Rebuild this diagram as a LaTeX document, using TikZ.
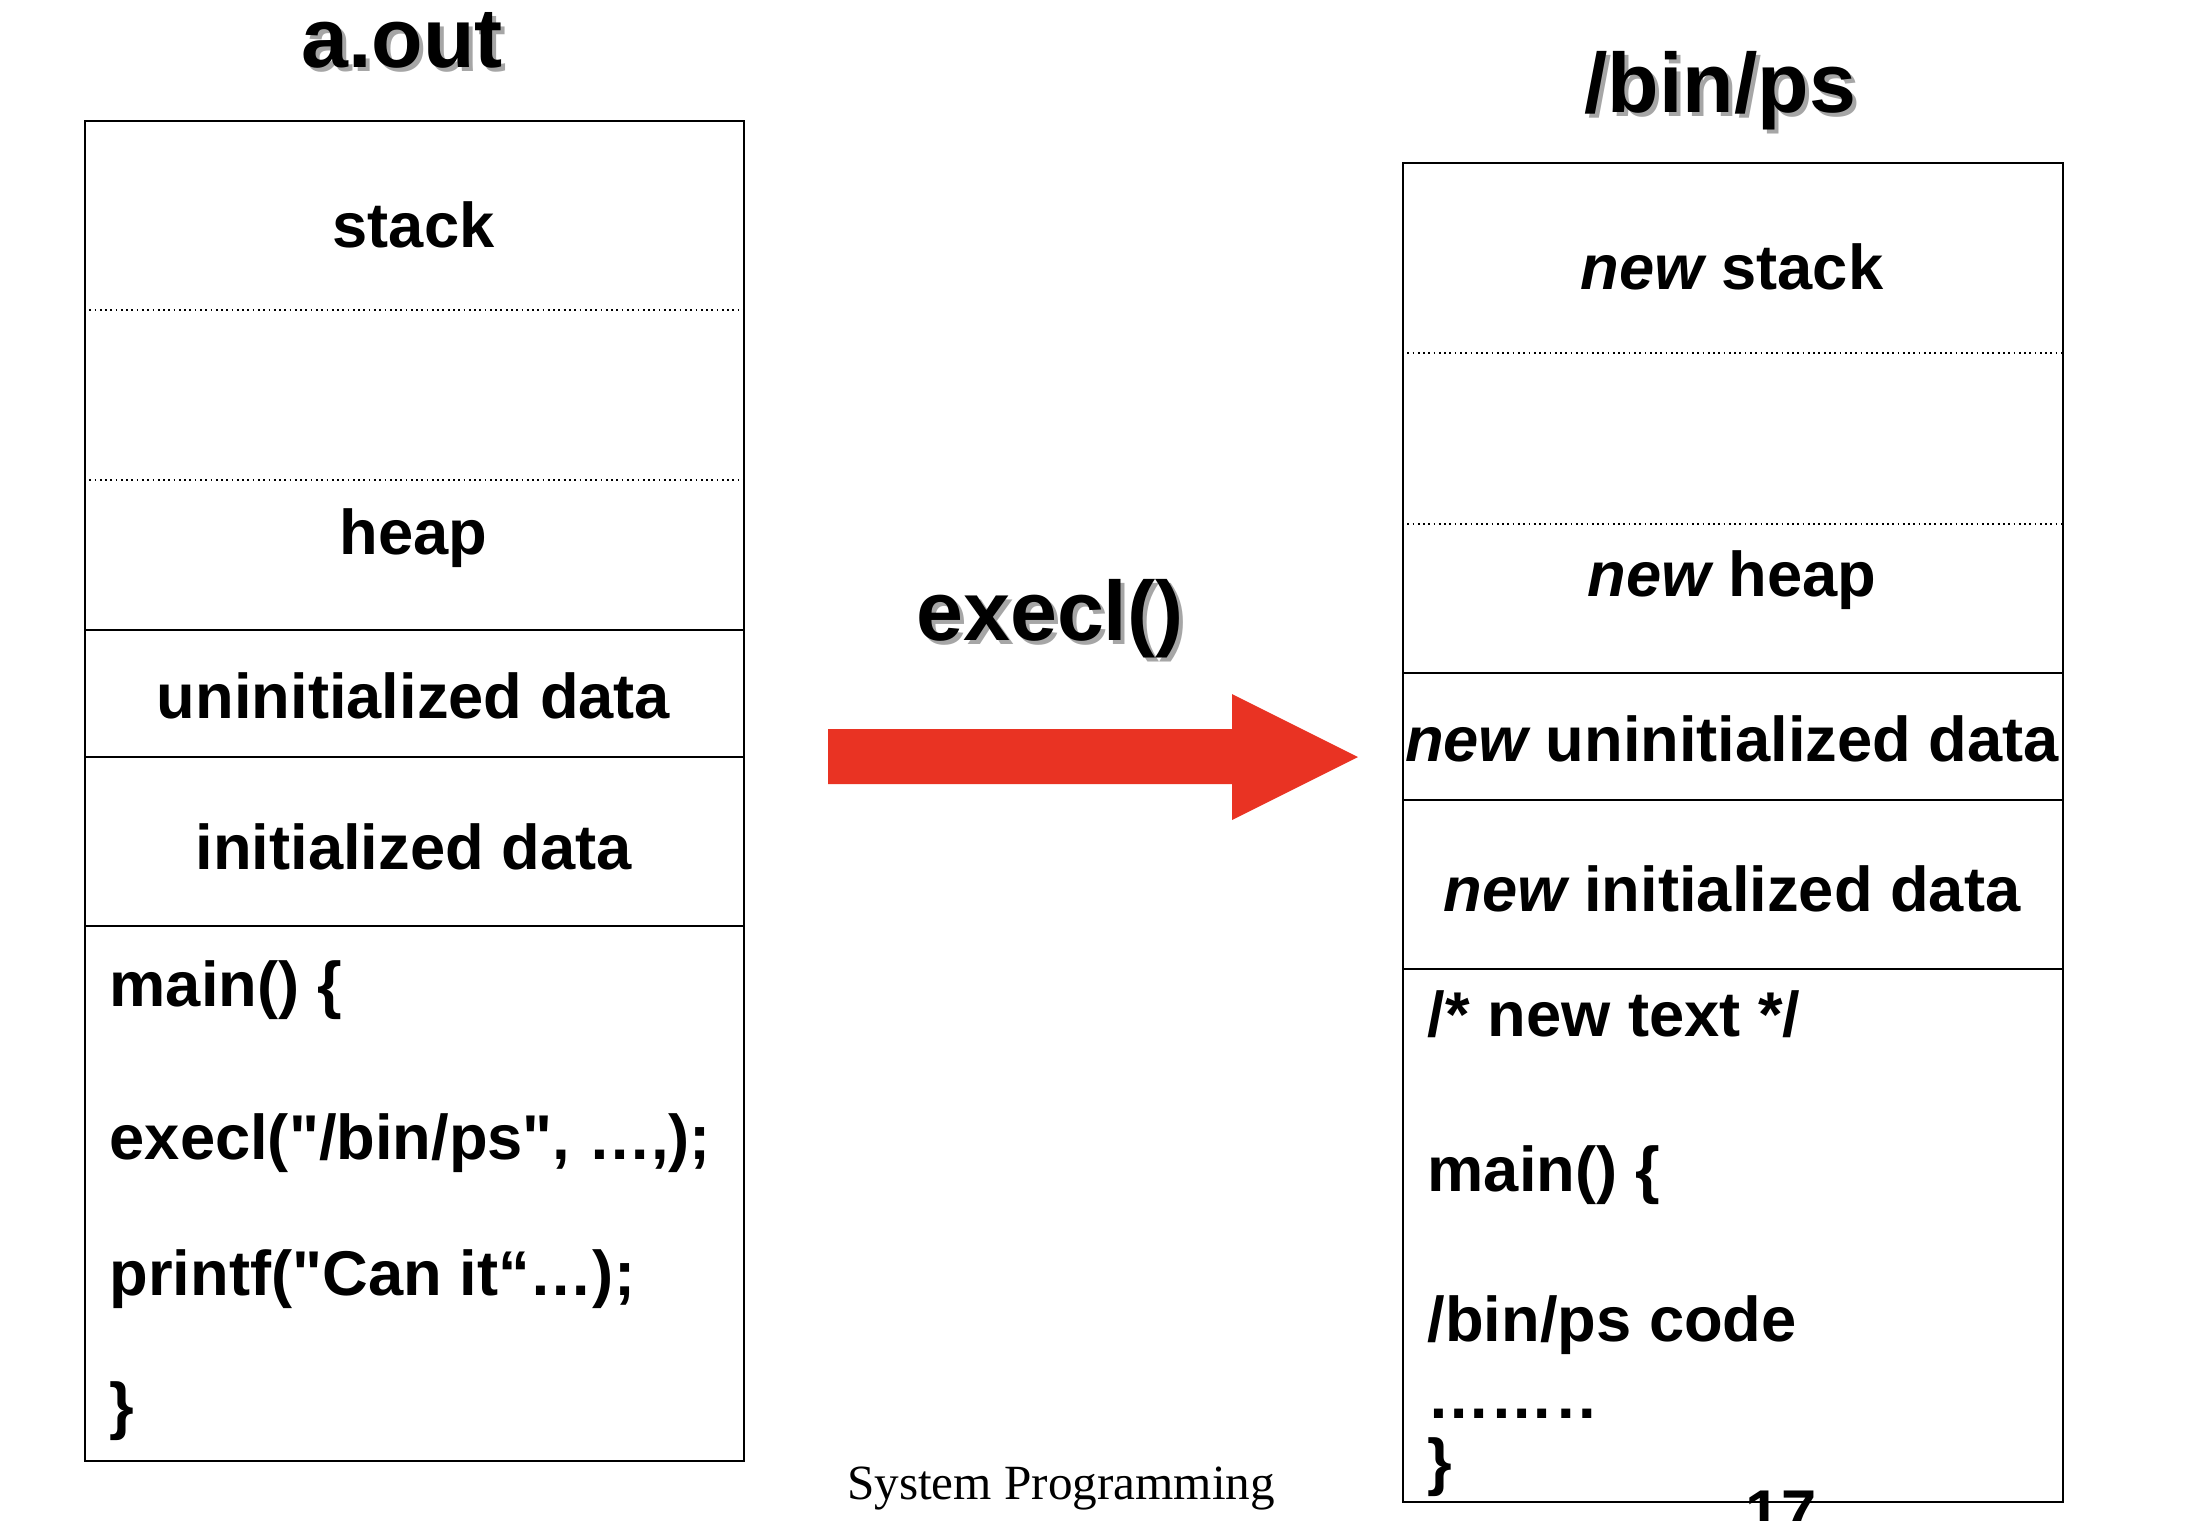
\documentclass[tikz,border=0pt]{standalone}
\usepackage{fontspec}
\setmainfont{Liberation Sans}
\newfontfamily\slidefont{Liberation Serif}
\usetikzlibrary{positioning}

\definecolor{execred}{RGB}{233,51,35}

\begin{document}
\begin{tikzpicture}[x=1cm, y=-1cm,
  segtext/.style={anchor=base, inner sep=0pt, font=\fontsize{18}{20}\selectfont\bfseries},
  codeline/.style={segtext, anchor=base west},
  bigtitle/.style={anchor=base, inner sep=0pt, font=\fontsize{24}{28}\selectfont\bfseries},
  titleshadow/.style={bigtitle, text=black!35},
  memframe/.style={draw, line width=0.7pt, inner sep=0pt, anchor=north west},
  solidsep/.style={line width=0.7pt},
  dotsep/.style={line width=0.5pt, densely dotted}]
  \useasboundingbox (0,0) rectangle (21.90,15.20);

  % titles, with their grey shadow
  \node[titleshadow] (aoutsh) at (4.06,0.71) {a.out};
  \node[bigtitle] (aout) at (4.02,0.67) {a.out};
  \node[titleshadow] (binpssh) at (17.24,1.16) {/bin/ps};
  \node[bigtitle] (binps) at (17.20,1.12) {/bin/ps};
  \node[titleshadow] (execsh) at (10.54,6.44) {execl()};
  \node[bigtitle] (exec) at (10.50,6.40) {execl()};

  % old process image
  \node[memframe, minimum width=6.59cm, minimum height=13.40cm] (oldmem) at (0.84,1.20) {};
  \foreach \yy/\ls in {3.10/dotsep, 4.80/dotsep, 6.30/solidsep, 7.57/solidsep, 9.26/solidsep}
    \draw[\ls] (0.84,\yy) -- (7.43,\yy);
  \node[segtext] (oldstack) at (4.135,2.47) {stack};
  \node[segtext] (oldheap) at (4.135,5.54) {heap};
  \node[segtext] (oldbss) at (4.135,7.18) {uninitialized data};
  \node[segtext] (olddata) at (4.135,8.69) {initialized data};
  \node[codeline] (oldmain) at (1.09,10.06) {main() \{};
  \node[codeline] (oldcall) at (1.09,11.59) {execl(\textquotedbl/bin/ps\textquotedbl, …,);};
  \node[codeline] (oldprint) at (1.09,12.95) {printf(\textquotedbl Can it“…);};
  \node[codeline] (oldclose) at (1.09,14.27) {\}};

  % new process image
  \node[memframe, minimum width=6.60cm, minimum height=13.39cm] (newmem) at (14.02,1.62) {};
  \foreach \yy/\ls in {3.53/dotsep, 5.24/dotsep, 6.73/solidsep, 8.00/solidsep, 9.69/solidsep}
    \draw[\ls] (14.02,\yy) -- (20.62,\yy);
  \node[segtext] (newstack) at (17.32,2.89) {\itshape new\upshape{} stack};
  \node[segtext] (newheap) at (17.32,5.96) {\itshape new\upshape{} heap};
  \node[segtext] (newbss) at (17.32,7.61) {\itshape new\upshape{} uninitialized data};
  \node[segtext] (newdata) at (17.32,9.11) {\itshape new\upshape{} initialized data};
  \node[codeline] (newtext) at (14.27,10.36) {/* new text */};
  \node[codeline] (newmain) at (14.27,11.91) {main() \{};
  \node[codeline] (newcode) at (14.27,13.41) {/bin/ps code};
  \node[codeline] (newdots) at (14.27,14.18) {……\kern0.055em.\kern0.055em.};
  \node[codeline] (newclose) at (14.27,14.83) {\}};

  % the exec arrow
  \fill[execred] (8.28,7.29) -- (12.32,7.29) -- (12.32,6.94) -- (13.58,7.57)
    -- (12.32,8.20) -- (12.32,7.84) -- (8.28,7.84) -- cycle;

  % slide footer
  \node[anchor=base, inner sep=0pt, font=\slidefont\fontsize{14}{16}\selectfont] (footer) at (10.61,14.99) {System Programming};
  \node[segtext] (pageno) at (17.81,15.34) {17};
\end{tikzpicture}
\end{document}
